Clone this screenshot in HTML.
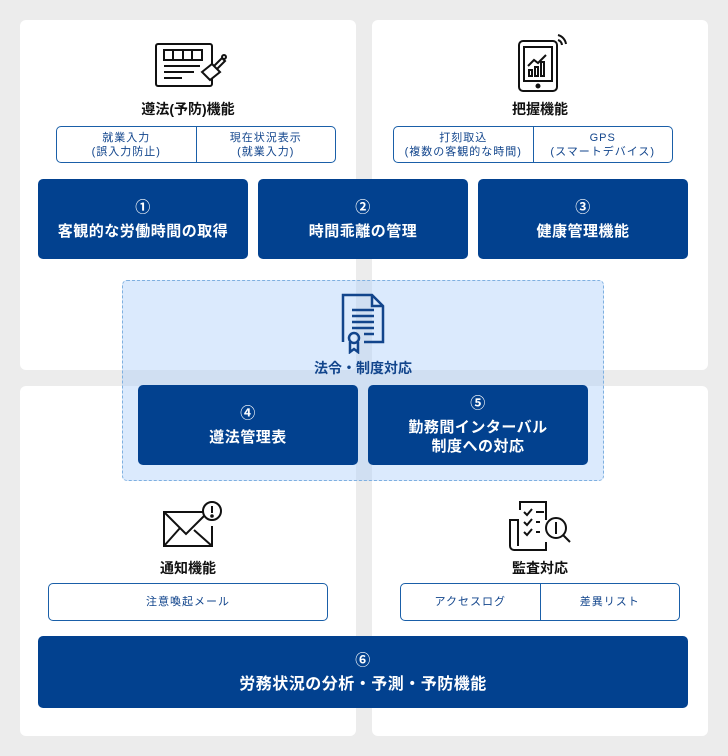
<!DOCTYPE html>
<html><head><meta charset="utf-8"><style>
*{margin:0;padding:0;box-sizing:border-box}
body{width:728px;height:756px;background:#ececec;position:relative;overflow:hidden;font-family:"Liberation Sans","Noto Sans CJK JP",sans-serif}
.p{position:absolute;background:#fff;border-radius:6px}
.a{position:absolute}
.b{position:absolute;background:#02418f;border-radius:5px;color:#fff;font-weight:bold;text-align:center;display:flex;flex-direction:column;justify-content:center;align-items:center;font-size:15px;line-height:19px;letter-spacing:0.5px}
.b .n{font-size:15px;margin-bottom:5px}
.t{position:absolute;text-align:center;font-weight:bold;font-size:14px;color:#111}
.s{position:absolute;border:1px solid #1a5fa8;border-radius:5px;display:flex;color:#12458c;font-size:11px;line-height:14px;background:#fff;letter-spacing:1px}
.s div{flex:1;display:flex;align-items:center;justify-content:center;text-align:center}
.s div+div{border-left:1px solid #1a5fa8}
</style></head><body>
<div class="p" style="left:20px;top:20px;width:336px;height:350px"></div>
<div class="p" style="left:372px;top:20px;width:336px;height:350px"></div>
<div class="p" style="left:20px;top:386px;width:336px;height:350px"></div>
<div class="p" style="left:372px;top:386px;width:336px;height:350px"></div>

<svg class="a" style="left:154px;top:42px" width="76" height="48" viewBox="0 0 76 48" fill="none" stroke="#111" stroke-width="2">
<rect x="2" y="2" width="56" height="42" rx="2"/><rect x="10" y="8" width="38" height="10"/><line x1="19" y1="8" x2="19" y2="18"/><line x1="29" y1="8" x2="29" y2="18"/><line x1="38" y1="8" x2="38" y2="18"/>
<line x1="10" y1="24" x2="46" y2="24"/><line x1="10" y1="30" x2="40" y2="30"/><line x1="10" y1="36" x2="28" y2="36"/>
<path d="M48 30 l10 -8 l8 8 l-10 8 z" fill="#fff"/><path d="M60 24 l8 -8 l3 3 l-8 8"/><circle cx="70" cy="15" r="2"/></svg>
<div class="t" style="left:20px;top:99px;width:336px">遵法(予防)機能</div>
<div class="s" style="left:56px;top:126px;width:280px;height:37px"><div>就業入力<br>(誤入力防止)</div><div>現在状況表示<br>(就業入力)</div></div>

<svg class="a" style="left:516px;top:32px" width="52" height="62" viewBox="0 0 52 62" fill="none" stroke="#111" stroke-width="2">
<rect x="3" y="9" width="38" height="50" rx="4"/><rect x="8" y="15" width="28" height="34"/><circle cx="22" cy="54" r="1.5" fill="#111"/>
<path d="M12 34 l6 -6 l4 3 l8 -8"/><rect x="13" y="38" width="3" height="6"/><rect x="19" y="35" width="3" height="9"/><rect x="25" y="30" width="3" height="14"/>
<path d="M42 8 a6 6 0 0 1 4 5 M42 3 a11 11 0 0 1 8 9"/></svg>
<div class="t" style="left:372px;top:99px;width:336px">把握機能</div>
<div class="s" style="left:393px;top:126px;width:280px;height:37px"><div>打刻取込<br>(複数の客観的な時間)</div><div>GPS<br>(スマートデバイス)</div></div>

<div class="b" style="left:38px;top:179px;width:210px;height:80px"><span class="n">①</span>客観的な労働時間の取得</div>
<div class="b" style="left:258px;top:179px;width:210px;height:80px"><span class="n">②</span>時間乖離の管理</div>
<div class="b" style="left:478px;top:179px;width:210px;height:80px"><span class="n">③</span>健康管理機能</div>

<div class="a" style="left:122px;top:280px;width:482px;height:201px;background:rgba(170,205,250,0.42);border:1px dashed #7fb0e0;border-radius:5px"></div>
<svg class="a" style="left:340px;top:292px" width="46" height="62" viewBox="0 0 46 62" fill="none" stroke="#12458c" stroke-width="2.5">
<path d="M3 50 V3 H32 L43 14 V50 H24"/><path d="M32 3 V14 H43"/><line x1="12" y1="18" x2="34" y2="18"/><line x1="12" y1="24" x2="34" y2="24"/><line x1="12" y1="30" x2="34" y2="30"/><line x1="12" y1="36" x2="34" y2="36"/><line x1="24" y1="42" x2="34" y2="42"/>
<circle cx="14" cy="46" r="5"/><path d="M10 50 V60 L14 57 L18 60 V50"/></svg>
<div class="t" style="left:122px;top:358px;width:482px;color:#12458c">法令・制度対応</div>
<div class="b" style="left:138px;top:385px;width:220px;height:80px"><span class="n">④</span>遵法管理表</div>
<div class="b" style="left:368px;top:385px;width:220px;height:80px"><span class="n">⑤</span>勤務間インターバル<br>制度への対応</div>

<svg class="a" style="left:160px;top:500px" width="64" height="48" viewBox="0 0 64 48" fill="none" stroke="#111" stroke-width="2">
<path d="M44 12 H4 V46 H52 V26"/><path d="M4 12 L26 34 L44 16"/><path d="M4 46 L20 28 M52 46 L34 30"/>
<circle cx="52" cy="11" r="9" fill="#fff"/><line x1="52" y1="6" x2="52" y2="13"/><circle cx="52" cy="16" r="0.8" fill="#111"/></svg>
<div class="t" style="left:20px;top:558px;width:336px">通知機能</div>
<div class="s" style="left:48px;top:583px;width:280px;height:38px"><div>注意喚起メール</div></div>

<svg class="a" style="left:506px;top:500px" width="72" height="52" viewBox="0 0 72 52" fill="none" stroke="#111" stroke-width="2">
<path d="M14 10 V2 H40 V20 M40 42 V50 H8 a4 4 0 0 1 -4 -4 V20 H12 V46"/><path d="M18 12 l3 3 l5 -6 M30 12 H38 M18 22 l3 3 l5 -6 M30 22 H34 M18 32 l3 3 l5 -6 M30 32 H34"/>
<circle cx="50" cy="28" r="10"/><line x1="50" y1="22" x2="50" y2="34"/><path d="M57 35 l7 7"/></svg>
<div class="t" style="left:372px;top:558px;width:336px">監査対応</div>
<div class="s" style="left:400px;top:583px;width:280px;height:38px"><div>アクセスログ</div><div>差異リスト</div></div>

<div class="b" style="left:38px;top:636px;width:650px;height:72px;font-size:16px"><span class="n">⑥</span>労務状況の分析・予測・予防機能</div>
</body></html>
